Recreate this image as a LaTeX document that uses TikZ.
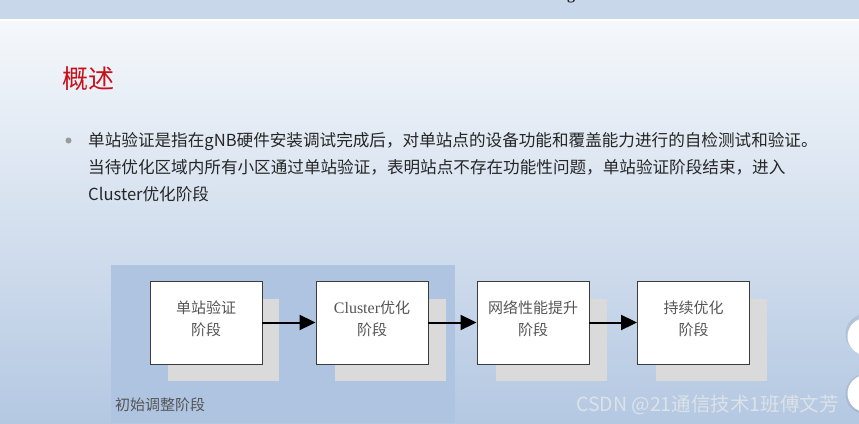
\documentclass[tikz,border=0pt]{standalone}
\usepackage{fontspec}
\setmainfont{Liberation Serif}
\newfontfamily\cjk{Noto Sans CJK SC}
\usetikzlibrary{arrows.meta}
\definecolor{bandblue}{HTML}{C8D7EA}
\definecolor{bgtop}{HTML}{F5F8FB}
\definecolor{bgbot}{HTML}{B4C8E2}
\definecolor{panelblue}{HTML}{AEC4E1}
\definecolor{titlered}{HTML}{C8101A}
\definecolor{bodytext}{HTML}{262626}
\definecolor{boxtextc}{HTML}{555555}
\definecolor{shadowgray}{HTML}{DADADA}
\definecolor{bulletgray}{HTML}{9A9A9A}
\definecolor{wmark}{HTML}{DDE2E8}
\tikzset{
  stagebox/.style={draw={rgb,255:red,60;green,60;blue,60}, line width=0.9pt, fill=white, minimum width=112pt, minimum height=83pt, inner sep=0pt},
  shadowbox/.style={fill=shadowgray, minimum width=111pt, minimum height=82pt, inner sep=0pt},
  boxtext/.style={text=boxtextc, align=center, inner sep=0pt, font=\cjk\fontsize{15}{22}\selectfont},
  flowarrow/.style={line width=2pt, -{Triangle[length=16pt,width=15pt]}},
  bodyline/.style={anchor=base west, inner sep=0pt, text=bodytext, font=\cjk\fontsize{16.6}{20}\selectfont},
  sidecircle/.style={circle, fill=white, minimum size=37pt, inner sep=0pt},
}
\begin{document}
\begin{tikzpicture}[x=1pt,y=-1pt]
\useasboundingbox (0,0) rectangle (859,423);
\clip (0,0) rectangle (859,423);
% background
\shade[top color=bgtop, bottom color=bgbot] (0,20) rectangle (859,423);
\fill[bandblue] (0,0) rectangle (859,19);
\fill[white] (0,19) rectangle (859,20.5);
\node[anchor=base, inner sep=0pt, font=\bfseries\fontsize{16}{16}\selectfont, text=bodytext] (topg) at (571,-0.5) {g};
% title
\node[anchor=base west, inner sep=0pt, text=titlered, font=\cjk\fontsize{26}{30}\selectfont] (title) at (62,88) {概述};
% bullet and body
\node[circle, fill=bulletgray, minimum size=6pt, inner sep=0pt] (bullet) at (68.5,140.5) {};
\node[bodyline] (l1) at (88,146.5) {单站验证是指在gNB硬件安装调试完成后，对单站点的设备功能和覆盖能力进行的自检测试和验证。};
\node[bodyline] (l2) at (88,173.5) {当待优化区域内所有小区通过单站验证，表明站点不存在功能性问题，单站验证阶段结束，进入};
\node[bodyline] (l3) at (88,200.5) {Cluster优化阶段};
% panel
\fill[panelblue] (111,265) rectangle (455,423);
\node[anchor=base west, inner sep=0pt, text=boxtextc, font=\cjk\fontsize{15}{18}\selectfont] (plabel) at (115,410) {初始调整阶段};
% shadows
\node[shadowbox] (s1) at (223.5,340) {};
\node[shadowbox] (s2) at (390,340) {};
\node[shadowbox] (s3) at (551,340) {};
\node[shadowbox] (s4) at (711.5,340) {};
% boxes
\node[stagebox] (b1) at (206,322.5) {};
\node[stagebox] (b2) at (372,322.5) {};
\node[stagebox] (b3) at (533,322.5) {};
\node[stagebox] (b4) at (693.5,322.5) {};
\node[boxtext] (t1) at (206,319) {单站验证\\阶段};
\node[boxtext] (t2) at (372,319) {{\rmfamily\fontsize{16}{22}\selectfont Cluster}优化\\阶段};
\node[boxtext] (t3) at (533,319) {网络性能提升\\阶段};
\node[boxtext] (t4) at (693.5,319) {持续优化\\阶段};
% arrows
\draw[flowarrow] (b1.east) -- (b2.west);
\draw[flowarrow] (b2.east) -- (b3.west);
\draw[flowarrow] (b3.east) -- (b4.west);
% right side circles
\fill[black, opacity=0.08] (865.5,334) circle (20pt);
\fill[black, opacity=0.08] (865.5,394) circle (20pt);
\node[sidecircle] (c1) at (866,336.5) {};
\node[sidecircle] (c2) at (866,393.5) {};
% watermark
\node[anchor=base west, inner sep=0pt, text=wmark, font=\cjk\fontsize{19.5}{22}\selectfont] (wm) at (576,411) {CSDN @21通信技术1班傅文芳};
\end{tikzpicture}
\end{document}
